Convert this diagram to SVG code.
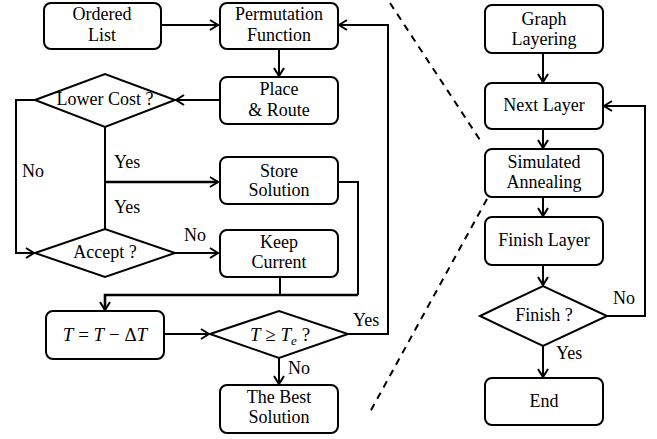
<svg xmlns="http://www.w3.org/2000/svg" width="657" height="439" viewBox="0 0 657 439">
  <style>
    .box { fill: #fff; stroke: #000; stroke-width: 2; }
    .dia { fill: #fff; stroke: #000; stroke-width: 2; stroke-linejoin: miter; }
    .lbl { text-anchor: middle; }
    .wire { fill: none; stroke: #000; stroke-width: 2; }
    .thick { stroke-width: 2.6; }
    .arr { marker-end: url(#head); }
    .dash { fill: none; stroke: #000; stroke-width: 2; stroke-dasharray: 7 6; }
  </style>
  <defs>
    <marker id="head" markerUnits="userSpaceOnUse" markerWidth="12" markerHeight="12" viewBox="-10 -6 12 12" refX="0" refY="0" orient="auto">
      <path d="M-8,-5 L0,0 L-8,5" fill="none" stroke="#000" stroke-width="2"/>
    </marker>
  </defs>

  <!-- separator between the two flows -->
  <g id="separators">
    <line class="dash" x1="390" y1="3" x2="480" y2="140"/>
    <line class="dash" x1="487" y1="199" x2="370" y2="412"/>
  </g>

  <!-- connectors -->
  <g id="connectors">
    <line class="wire arr" x1="161" y1="25" x2="218" y2="25"/>
    <line class="wire arr" x1="279" y1="49" x2="279" y2="76"/>
    <line class="wire arr" x1="219" y1="100" x2="176" y2="100"/>
    <polyline class="wire arr" points="35,100 16,100 16,253 34,253"/>
    <line class="wire" x1="105" y1="127" x2="105" y2="229"/>
    <line class="wire thick arr" x1="105" y1="182" x2="218" y2="182"/>
    <line class="wire arr" x1="175" y1="253" x2="218" y2="253"/>
    <polyline class="wire" points="338,182 358,182 358,295"/>
    <line class="wire" x1="280" y1="277" x2="280" y2="295"/>
    <polyline class="wire thick arr" points="358,295 105,295 105,310"/>
    <line class="wire arr" x1="164" y1="334" x2="209" y2="334"/>
    <polyline class="wire arr" points="348,334 388,334 388,25 339,25"/>
    <line class="wire arr" x1="279" y1="358" x2="279" y2="384"/>

    <line class="wire arr" x1="543" y1="53" x2="543" y2="82"/>
    <line class="wire arr" x1="543" y1="129" x2="543" y2="148"/>
    <line class="wire arr" x1="543" y1="197" x2="543" y2="216"/>
    <line class="wire arr" x1="543" y1="265" x2="543" y2="285"/>
    <polyline class="wire arr" points="607,316 645,316 645,106 604,106"/>
    <line class="wire arr" x1="543" y1="346" x2="543" y2="377"/>
  </g>

  <!-- branch labels -->
  <g id="edge-labels" font-family="'Liberation Serif', serif" font-size="18" fill="#000">
    <text x="22" y="177">No</text>
    <text x="114" y="168">Yes</text>
    <text x="114" y="213">Yes</text>
    <text x="184" y="241">No</text>
    <text x="353" y="326">Yes</text>
    <text x="288" y="374">No</text>
    <text x="613" y="304">No</text>
    <text x="556" y="359">Yes</text>
  </g>

  <g id="nodes" font-family="'Liberation Serif', serif" font-size="18" fill="#000">
    <!-- left flow -->
    <g id="ordered-list">
      <rect class="box" x="44" y="3" width="117" height="46" rx="7"/>
      <text class="lbl" x="102" y="20">Ordered</text>
      <text class="lbl" x="102" y="41">List</text>
    </g>
    <g id="permutation-function">
      <rect class="box" x="220" y="3" width="118" height="46" rx="7"/>
      <text class="lbl" x="279" y="20">Permutation</text>
      <text class="lbl" x="279" y="41">Function</text>
    </g>
    <g id="place-route">
      <rect class="box" x="220" y="77" width="118" height="47" rx="7"/>
      <text class="lbl" x="279" y="95">Place</text>
      <text class="lbl" x="279" y="116">&amp; Route</text>
    </g>
    <g id="lower-cost">
      <polygon class="dia" points="35,100 105,74 175,100 105,127"/>
      <text class="lbl" x="105" y="105">Lower Cost ?</text>
    </g>
    <g id="store-solution">
      <rect class="box" x="220" y="157" width="118" height="47" rx="7"/>
      <text class="lbl" x="279" y="177">Store</text>
      <text class="lbl" x="279" y="196">Solution</text>
    </g>
    <g id="accept">
      <polygon class="dia" points="35,253 105,229 175,253 105,277"/>
      <text class="lbl" x="105" y="258">Accept ?</text>
    </g>
    <g id="keep-current">
      <rect class="box" x="220" y="230" width="118" height="47" rx="7"/>
      <text class="lbl" x="279" y="248">Keep</text>
      <text class="lbl" x="279" y="268">Current</text>
    </g>
    <g id="temperature-step">
      <rect class="box" x="46" y="311" width="118" height="48" rx="7"/>
      <text class="lbl" x="105" y="341" font-size="19"><tspan font-style="italic">T</tspan> = <tspan font-style="italic">T</tspan> − Δ<tspan font-style="italic">T</tspan></text>
    </g>
    <g id="temperature-check">
      <polygon class="dia" points="210,334 279,311 348,334 279,358"/>
      <text x="250" y="341" font-size="19"><tspan font-style="italic">T</tspan> ≥ <tspan font-style="italic">T</tspan><tspan font-style="italic" font-size="13" dy="4">e</tspan><tspan dy="-4"> ?</tspan></text>
    </g>
    <g id="best-solution">
      <rect class="box" x="220" y="385" width="118" height="48" rx="7"/>
      <text class="lbl" x="279" y="403">The Best</text>
      <text class="lbl" x="279" y="423">Solution</text>
    </g>

    <!-- right flow -->
    <g id="graph-layering">
      <rect class="box" x="485" y="5" width="118" height="48" rx="7"/>
      <text class="lbl" x="544" y="25">Graph</text>
      <text class="lbl" x="544" y="45">Layering</text>
    </g>
    <g id="next-layer">
      <rect class="box" x="485" y="83" width="118" height="46" rx="7"/>
      <text class="lbl" x="544" y="111">Next Layer</text>
    </g>
    <g id="simulated-annealing">
      <rect class="box" x="485" y="149" width="118" height="48" rx="7"/>
      <text class="lbl" x="544" y="168">Simulated</text>
      <text class="lbl" x="544" y="188">Annealing</text>
    </g>
    <g id="finish-layer">
      <rect class="box" x="485" y="217" width="118" height="48" rx="7"/>
      <text class="lbl" x="544" y="246">Finish Layer</text>
    </g>
    <g id="finish-check">
      <polygon class="dia" points="480,316 543,286 607,316 543,346"/>
      <text class="lbl" x="544" y="321">Finish ?</text>
    </g>
    <g id="end">
      <rect class="box" x="485" y="378" width="118" height="47" rx="7"/>
      <text class="lbl" x="544" y="407">End</text>
    </g>
  </g>
</svg>
